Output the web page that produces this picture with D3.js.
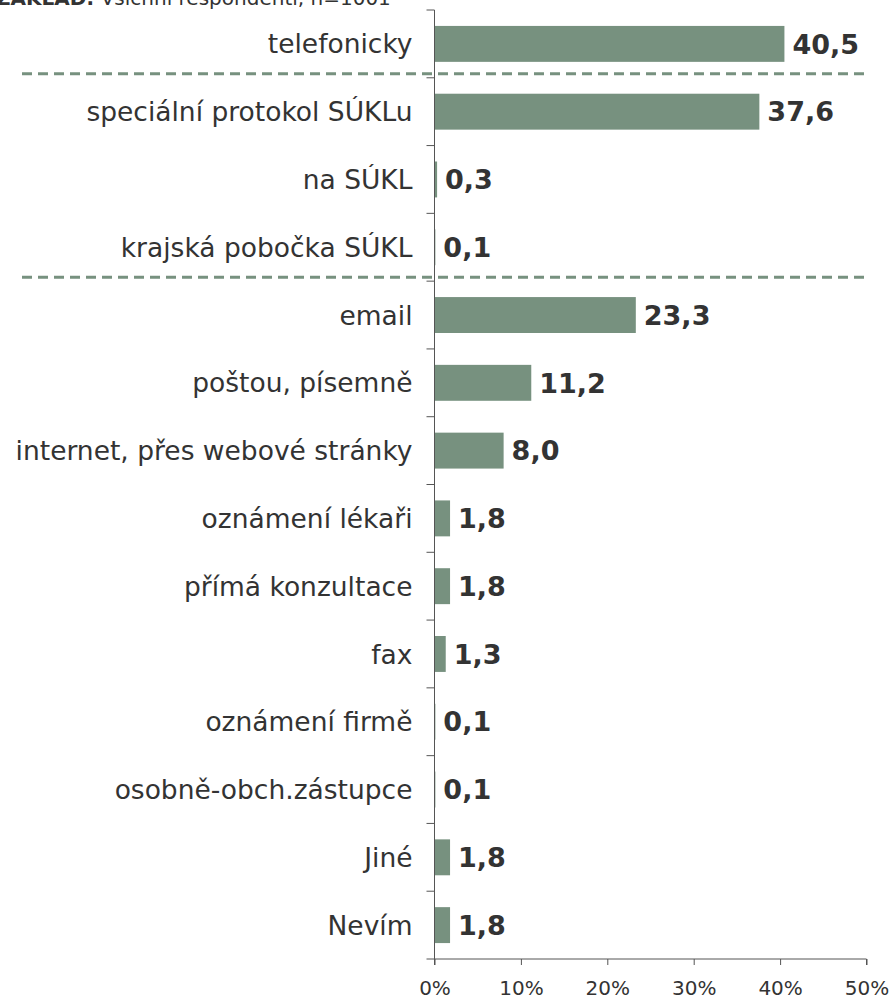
<!DOCTYPE html>
<html><head><meta charset="utf-8">
<script src="https://cdn.jsdelivr.net/npm/d3@7"></script>
<style>body{margin:0;background:#fff}svg{display:block}</style>
</head><body>
<svg id="c" width="892" height="1000"></svg>
<script>
const categories = ["telefonicky","speciální protokol SÚKLu","na SÚKL","krajská pobočka SÚKL","email","poštou, písemně","internet, přes webové stránky","oznámení lékaři","přímá konzultace","fax","oznámení firmě","osobně-obch.zástupce","Jiné","Nevím"];
const values = [40.5,37.6,0.3,0.1,23.3,11.2,8.0,1.8,1.8,1.3,0.1,0.1,1.8,1.8];
const xTicks = [0,10,20,30,40,50];
const separatorsAfter = ["telefonicky","krajská pobočka SÚKL"];

const svg = d3.select("#c");
const x0 = 434.5, x1 = 866.5, yTop = 10, yBot = 959;
const x = d3.scaleLinear().domain([0,50]).range([x0,x1]);
const y = d3.scaleBand().domain(categories).range([yTop,yBot]).paddingInner(0.47).paddingOuter(0.235);
const band = (yBot-yTop)/categories.length;
const barColor = "#77917f", txt = "#333";
const font = "DejaVu Sans, Verdana, sans-serif";

// subtitle
const sub = svg.append("text").attr("x",-4).attr("y",5).attr("font-family",font).attr("font-size",20).attr("fill",txt);
sub.append("tspan").attr("font-weight","bold").text("ZÁKLAD:");
sub.append("tspan").text(" Všichni respondenti, n=1001");

// bars
svg.selectAll("rect.bar").data(categories).join("rect")
  .attr("x",x(0)).attr("y",d=>y(d)).attr("height",y.bandwidth())
  .attr("width",(d,i)=>x(values[i])-x(0)).attr("fill",barColor);

// value labels
svg.selectAll("text.val").data(categories).join("text")
  .attr("x",(d,i)=>x(values[i])+8).attr("y",d=>y(d)+y.bandwidth()/2)
  .attr("dy","0.36em").attr("font-family",font).attr("font-weight","bold")
  .attr("font-size",27).attr("fill",txt)
  .text((d,i)=>d3.format(".1f")(values[i]).replace(".",","));

// category labels
svg.selectAll("text.cat").data(categories).join("text")
  .attr("x",x0-22).attr("y",d=>y(d)+y.bandwidth()/2).attr("dy","0.36em")
  .attr("text-anchor","end").attr("font-family",font).attr("font-size",26.5).attr("fill",txt)
  .text(d=>d);

// y axis line + ticks at band boundaries
svg.append("line").attr("x1",x0).attr("x2",x0).attr("y1",yTop).attr("y2",yBot).attr("stroke","#555").attr("stroke-width",1);
for(let i=0;i<=categories.length;i++){
  const yy = yTop + i*band;
  svg.append("line").attr("x1",x0-8).attr("x2",x0).attr("y1",yy).attr("y2",yy).attr("stroke","#555");
}

// x axis
const xAxis = d3.axisBottom(x).tickValues(xTicks).tickSize(6).tickFormat(d=>d+"%");
const gx = svg.append("g").attr("transform",`translate(0,${yBot})`).call(xAxis);
gx.select(".domain").attr("stroke","#555").attr("d",`M${x0},6V0H${x1}V6`);
gx.selectAll(".tick line").attr("stroke","#555");
gx.selectAll(".tick text").attr("font-family",font).attr("font-size",20).attr("fill",txt).attr("dy","1.35em");

// separators
separatorsAfter.forEach(c=>{
  const yy = y(c)+y.bandwidth()+(band-y.bandwidth())/2 - 4;
  svg.append("line").attr("x1",22).attr("x2",866).attr("y1",yy).attr("y2",yy)
    .attr("stroke",barColor).attr("stroke-width",3).attr("stroke-dasharray","10,6");
});
</script>
</body></html>
